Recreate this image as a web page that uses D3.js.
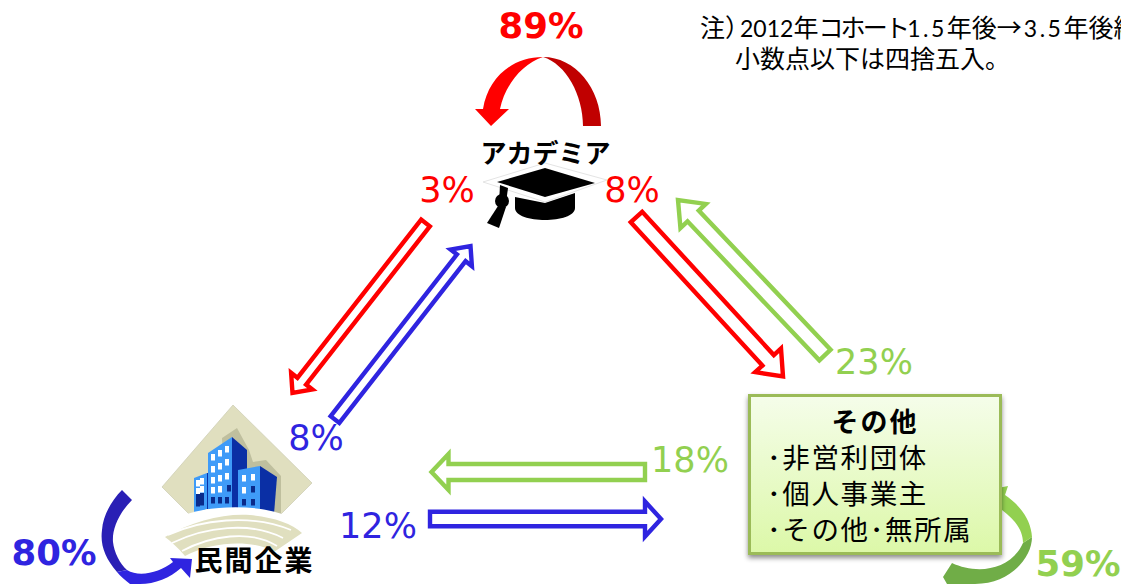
<!DOCTYPE html>
<html lang="ja">
<head>
<meta charset="utf-8">
<style>
html,body{margin:0;padding:0;background:#fff;overflow:hidden}
svg{display:block}
</style>
<script src="https://cdn.jsdelivr.net/npm/d3@7"></script>
</head>
<body>
<svg id="chart" width="1121" height="584"></svg>
<script>
// Career transitions between sectors: share of each cohort per destination
const sectors = ["アカデミア", "民間企業", "その他"];
const otherItems = ["･非営利団体", "･個人事業主", "･その他･無所属"];
const noteRuns = ["注）", "2012", "年", "コホート", "1.5", "年後→", "3.5", "年後継続"];
const noteSecond = "小数点以下は四捨五入。";

const stayShares = [89, 80, 59];
const flowFrom = [0, 1, 0, 2, 2, 1];
const flowTo = [1, 0, 2, 0, 1, 2];
const flowShares = [3, 8, 8, 23, 18, 12];

const sectorColors = ["#ff0000", "#2f24e0", "#92d050"];
const stayDark = ["#c00000", "#2a1fb5", "#70ad47"];

// Drawing geometry for the hollow block arrows, one entry per flow
const arrowTail = [[425.5, 223], [335, 419.5], [636.5, 217], [825, 355], [645, 472], [430, 519]];
const arrowTip = [[292.5, 393], [470.5, 246], [783, 376.5], [678, 200], [431.5, 472], [661, 519]];
const arrowShaft = [11, 11, 15.5, 15.5, 16, 14.5];
const arrowHead = [27, 27, 35, 35, 36, 35];
const arrowHeadLen = [15, 15, 22, 22, 17, 16];

// Where each percentage label sits
const flowLabelAt = [[447, 202], [316, 450], [632, 202], [874, 374], [690, 472], [378, 538]];
const stayLabelAt = [[541, 38], [54, 565], [1078, 576]];

const svg = d3.select("#chart");
const defs = svg.append("defs");
const line = d3.line();
const SANS = "'DejaVu Sans', sans-serif";
const JP = "'Noto Sans CJK JP', sans-serif";

const grad = defs.append("linearGradient").attr("id", "boxFill")
  .attr("x1", 0).attr("y1", 0).attr("x2", 0).attr("y2", 1);
grad.append("stop").attr("offset", 0).attr("stop-color", "#f5fdea");
grad.append("stop").attr("offset", 1).attr("stop-color", "#dcf8a8");
const shadow = defs.append("filter").attr("id", "boxShadow")
  .attr("x", "-10%").attr("y", "-10%").attr("width", "120%").attr("height", "125%");
shadow.append("feDropShadow").attr("dx", 0).attr("dy", 3).attr("stdDeviation", 2.5)
  .attr("flood-color", "#000").attr("flood-opacity", 0.45);

// Outline of a hollow arrow along the tail-to-tip axis
function arrowOutline(tail, tip, shaft, head, headLen) {
  const dx = tip[0] - tail[0], dy = tip[1] - tail[1];
  const len = Math.hypot(dx, dy), ux = dx / len, uy = dy / len, nx = -uy, ny = ux;
  const at = (along, off) => [tail[0] + ux * along + nx * off, tail[1] + uy * along + ny * off];
  const neck = len - headLen;
  return line([at(0, shaft / 2), at(neck, shaft / 2), at(neck, head / 2), at(len, 0),
    at(neck, -head / 2), at(neck, -shaft / 2), at(0, -shaft / 2)]) + "Z";
}

// Flow arrows between the three sectors
svg.append("g").selectAll("path").data(flowShares).join("path")
  .attr("d", (d, i) => arrowOutline(arrowTail[i], arrowTip[i], arrowShaft[i], arrowHead[i], arrowHeadLen[i]))
  .attr("fill", "#fff")
  .attr("stroke", (d, i) => sectorColors[flowFrom[i]])
  .attr("stroke-width", 4.4)
  .attr("stroke-miterlimit", 6);

// Curved "stay in the same sector" arrows, each split into a dark and a bright half
const stayDarkPaths = [
  "M601,126 C601,88 575,57 543,57 C566,64 583,95 583,126 Z",
  "M122,490 L132,500 C118,514 112,530 113,542 C114,552 120,564 127,570 L117,572 C105,558 100,545 102,530 C103,515 112,500 122,490 Z",
  "M1032,537 C1032,558 1010,584 975,584 L947,584 L943,577 L952,563 C975,574 1010,572 1023,543 Z"
];
const stayBrightPaths = [
  "M543,57 C512,57 488,78 483,109 L475,109 L491,126 L509,109 L500,109 C505,85 522,64 543,57 Z",
  "M117,572 L127,570 C140,578 160,572 173,562 L170,558 L192,559 L190,578 L181,568 C170,578 155,584 140,584 L130,584 C125,580 120,576 117,572 Z",
  "M1032,537 C1031,520 1020,505 1005,495 L1008,486 L988,490 L997,512 L1002,510 C1015,520 1023,530 1023,543 Z"
];
const stayG = svg.append("g");
stayG.selectAll("path.dark").data(stayShares).join("path").attr("class", "dark")
  .attr("d", (d, i) => stayDarkPaths[i]).attr("fill", (d, i) => stayDark[i]);
stayG.selectAll("path.bright").data(stayShares).join("path").attr("class", "bright")
  .attr("d", (d, i) => stayBrightPaths[i]).attr("fill", (d, i) => sectorColors[i]);

// Mortarboard icon for academia
const cap = svg.append("g");
cap.append("path").attr("d", line([[483,182],[545,163],[607,180],[545,202]]) + "Z")
  .attr("fill", "#fff").attr("stroke", "#e4e4e4").attr("stroke-width", 1);
cap.append("path").attr("d", "M515,197 L545,203 L575,193 L575,208 C575,224 515,224 515,208 Z").attr("fill", "#000");
cap.append("path").attr("d", line([[545,168],[595,183],[545,197],[497,182]]) + "Z").attr("fill", "#000");
cap.append("path").attr("d", line([[500,185],[508,188],[506,203],[499,203]]) + "Z").attr("fill", "#000");
cap.append("circle").attr("cx", 502).attr("cy", 201).attr("r", 7).attr("fill", "#000");
cap.append("path").attr("d", line([[498,206],[506,207],[499,228],[487,223]]) + "Z").attr("fill", "#000");

// Office building icon for the private sector
const bld = svg.append("g");
bld.append("path").attr("d", line([[233,405],[312,483],[278,517],[192,517],[162,487]]) + "Z")
  .attr("fill", "#e0dfbf").attr("stroke", "#cfcfb6").attr("stroke-width", 0.8);
bld.append("path").attr("d", line([[222,438],[237,428],[249,450],[253,462],[266,460],[281,476],[281,514],[225,514]]) + "Z")
  .attr("fill", "#bfbf9e");
const faces = [
  [[[194,478],[207,473],[207,509],[194,514]], "#3f9bf8"],
  [[[207,473],[211,473],[211,509],[207,509]], "#0a2fa5"],
  [[[208,453],[232,437],[232,510],[208,510]], "#3f9bf8"],
  [[[232,437],[247,450],[247,511],[232,510]], "#0a2fa5"],
  [[[238,470],[260,466],[260,513],[238,510]], "#3f9bf8"],
  [[[260,466],[277,477],[274,514],[260,513]], "#0a2fa5"]
];
bld.selectAll("path.face").data(faces).join("path").attr("class", "face")
  .attr("d", d => line(d[0]) + "Z").attr("fill", d => d[1]);
const win = [
  [198,483,"#fff"],[202,481,"#fff"],[198,491,"#fff"],[202,489,"#fff"],[198,497,"#0a2a8a"],[202,496,"#0a2a8a"],
  [198,503,"#0a2a8a"],[202,502,"#0a2a8a"],
  [213,457,"#fff"],[220,453,"#fff"],[227,449,"#fff"],[213,469,"#fff"],[220,466,"#fff"],[227,462,"#fff"],
  [213,480,"#fff"],[220,478,"#fff"],[227,476,"#fff"],[213,490,"#fff"],[220,489,"#fff"],[229,488,"#0a2a8a"],
  [213,500,"#0a2a8a"],[220,500,"#0a2a8a"],[227,500,"#0a2a8a"],
  [244,478,"#fff"],[253,477,"#fff"],[244,490,"#fff"],[253,489,"#0a2a8a"],[244,502,"#0a2a8a"],[253,502,"#0a2a8a"]
];
bld.selectAll("rect").data(win).join("rect")
  .attr("x", d => d[0] - 2).attr("y", d => d[1] - 3).attr("width", 4).attr("height", 6.5).attr("fill", d => d[2]);
// White sweep that trims the building bases, then the striped ground below it
bld.append("path").attr("d", "M180,524 L180,517 C205,505 260,503 290,517 L290,524 Z").attr("fill", "#fff");
bld.append("path").attr("d", "M165,537 C192,521 225,513 250,515 C272,517 292,523 302,533 L274,552 C255,540 215,540 185,556 C178,548 172,542 165,537 Z").attr("fill", "#e0dfbf");
["M168,535 C200,520 250,513 291,530", "M172,543 C205,527 250,521 283,538", "M182,551 C210,536 250,529 277,546"]
  .forEach(d => bld.append("path").attr("d", d).attr("fill", "none").attr("stroke", "#fff").attr("stroke-width", 1.8));

// Box for the "other" sector
svg.append("rect").attr("x", 749.5).attr("y", 395.5).attr("width", 251).attr("height", 158)
  .attr("fill", "url(#boxFill)").attr("stroke", "#9bbb59").attr("stroke-width", 3).attr("filter", "url(#boxShadow)");

// Sector titles
const titleAt = [[545.5, 163, 26, 0], [254.5, 571, 28, 2], [875, 432, 27, 2]];
svg.append("g").selectAll("text").data(sectors).join("text")
  .attr("x", (d, i) => titleAt[i][0]).attr("y", (d, i) => titleAt[i][1])
  .attr("font-size", (d, i) => titleAt[i][2]).attr("letter-spacing", (d, i) => titleAt[i][3])
  .attr("text-anchor", "middle").attr("font-weight", 700)
  .attr("font-family", JP).attr("fill", "#000").text(d => d);

const itemBase = [468, 504, 540];
svg.append("g").selectAll("text").data(otherItems).join("text")
  .attr("x", 767).attr("y", (d, i) => itemBase[i])
  .attr("font-size", 27.5).attr("letter-spacing", 1.6)
  .attr("font-family", JP).attr("fill", "#000").text(d => d);

// Percentage labels
svg.append("g").selectAll("text").data(flowShares).join("text")
  .attr("x", (d, i) => flowLabelAt[i][0]).attr("y", (d, i) => flowLabelAt[i][1])
  .attr("text-anchor", "middle").attr("font-size", 35).attr("font-family", SANS)
  .attr("fill", (d, i) => sectorColors[flowFrom[i]]).text(d => d + "%");
svg.append("g").selectAll("text").data(stayShares).join("text")
  .attr("x", (d, i) => stayLabelAt[i][0]).attr("y", (d, i) => stayLabelAt[i][1])
  .attr("text-anchor", "middle").attr("font-size", 35.5).attr("font-weight", 700).attr("font-family", SANS)
  .attr("fill", (d, i) => sectorColors[i]).text(d => d + "%");

// Footnote, running off the right edge; digits use a narrower Latin face
const runDx = [0, -10, 0, 0, 0, 0, 2, 0];
const runSpacing = [0, 0, 0, -2.8, 2.5, 0, 2.5, 0];
const isLatin = s => /^[0-9.]+$/.test(s);
const note = svg.append("g").attr("fill", "#000");
note.append("text").attr("x", 700).attr("y", 37)
  .selectAll("tspan").data(noteRuns).join("tspan")
  .attr("dx", (d, i) => runDx[i])
  .attr("font-size", d => isLatin(d) ? 23 : 25)
  .attr("font-family", d => isLatin(d) ? "Lato, sans-serif" : JP)
  .attr("letter-spacing", (d, i) => runSpacing[i]).text(d => d);
note.append("text").attr("x", 735).attr("y", 68).attr("font-size", 25)
  .attr("font-family", JP).text(noteSecond);
</script>
</body>
</html>
